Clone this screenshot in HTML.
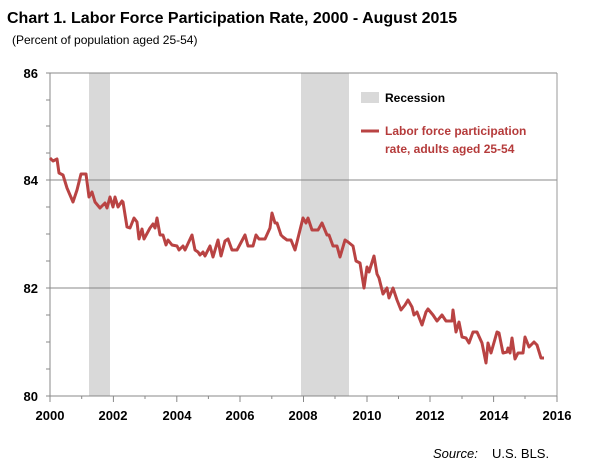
<!DOCTYPE html>
<html><head><style>
body{margin:0;background:#fff;font-family:"Liberation Sans",Arial,sans-serif;}
svg text{font-family:"Liberation Sans",Arial,sans-serif;}
</style></head><body>
<svg width="600" height="469" viewBox="0 0 600 469" xmlns="http://www.w3.org/2000/svg">
<rect width="600" height="469" fill="#fff"/>
<text x="7" y="23" font-size="16" font-weight="bold" fill="#000">Chart 1. Labor Force Participation Rate, 2000 - August 2015</text>
<text x="12" y="44" font-size="12" fill="#000">(Percent of population aged 25-54)</text>
<rect x="89" y="73" width="21" height="323" fill="#d9d9d9"/>
<rect x="301" y="73" width="48" height="323" fill="#d9d9d9"/>
<line x1="50" y1="180" x2="557" y2="180" stroke="#888" stroke-width="1"/>
<line x1="50" y1="288" x2="557" y2="288" stroke="#888" stroke-width="1"/>
<line x1="50" y1="73" x2="557" y2="73" stroke="#888" stroke-width="1"/>
<line x1="557" y1="73" x2="557" y2="396" stroke="#999" stroke-width="1"/>
<line x1="50" y1="73" x2="50" y2="396" stroke="#888" stroke-width="1"/>
<line x1="50" y1="396" x2="557" y2="396" stroke="#888" stroke-width="1"/>
<g stroke="#888" stroke-width="1">
<line x1="46" y1="73" x2="50" y2="73"/><line x1="46" y1="100" x2="50" y2="100"/><line x1="46" y1="126" x2="50" y2="126"/><line x1="46" y1="153" x2="50" y2="153"/><line x1="46" y1="180" x2="50" y2="180"/><line x1="46" y1="207" x2="50" y2="207"/><line x1="46" y1="234" x2="50" y2="234"/><line x1="46" y1="261" x2="50" y2="261"/><line x1="46" y1="288" x2="50" y2="288"/><line x1="46" y1="315" x2="50" y2="315"/><line x1="46" y1="342" x2="50" y2="342"/><line x1="46" y1="369" x2="50" y2="369"/><line x1="46" y1="396" x2="50" y2="396"/>
<line x1="50" y1="396" x2="50" y2="402"/><line x1="81.7" y1="396" x2="81.7" y2="399"/><line x1="113.4" y1="396" x2="113.4" y2="402"/><line x1="145" y1="396" x2="145" y2="399"/><line x1="176.8" y1="396" x2="176.8" y2="402"/><line x1="208.4" y1="396" x2="208.4" y2="399"/><line x1="240" y1="396" x2="240" y2="402"/><line x1="271.8" y1="396" x2="271.8" y2="399"/><line x1="303.5" y1="396" x2="303.5" y2="402"/><line x1="335" y1="396" x2="335" y2="399"/><line x1="367" y1="396" x2="367" y2="402"/><line x1="398.5" y1="396" x2="398.5" y2="399"/><line x1="430" y1="396" x2="430" y2="402"/><line x1="462" y1="396" x2="462" y2="399"/><line x1="493.6" y1="396" x2="493.6" y2="402"/><line x1="525" y1="396" x2="525" y2="399"/><line x1="557" y1="396" x2="557" y2="402"/>
</g>
<g font-size="13" font-weight="bold" fill="#000" text-anchor="end">
<text x="38" y="78">86</text><text x="38" y="185">84</text><text x="38" y="293">82</text><text x="38" y="401">80</text>
</g>
<g font-size="13" font-weight="bold" fill="#000" text-anchor="middle">
<text x="50" y="420">2000</text><text x="113" y="420">2002</text><text x="177" y="420">2004</text><text x="240" y="420">2006</text><text x="303" y="420">2008</text><text x="367" y="420">2010</text><text x="430" y="420">2012</text><text x="494" y="420">2014</text><text x="557" y="420">2016</text>
</g>
<polyline fill="none" stroke="#b94343" stroke-width="3" stroke-linejoin="round" points="50,158 53,161 57,159 59,173 63,175 67,188 73,202 77,190 81,174 86,174 89,197 92,192 95,202 100,208 105,203 107,208 110,197 113,207 115,197 118,207 122,201 123,202 127,227 130,228 134,218 137,222 139,239 142,229 144,239 150,228 153,224 155,228 157,218 160,235 163,235 166,245 168,240 172,245 177,246 179,250 183,246 185,250 192,235 195,250 198,252 200,255 203,252 205,256 210,246 213,257 218,240 221,256 225,241 228,239 232,250 237,250 245,235 248,246 253,246 256,235 259,239 265,239 270,228 272,213 275,223 277,223 281,235 283,237 287,240 291,240 295,250 303,218 306,223 308,218 312,230 318,230 322,223 327,235 329,235 333,246 337,246 340,257 345,240 348,242 353,246 356,261 360,263 364,288 367,267 369,272 374,256 377,274 379,278 383,294 387,288 389,298 393,288 397,300 401,310 405,305 408,300 412,307 414,315 417,312 422,325 426,312 428,309 433,315 437,321 442,315 446,321 452,321 453,310 456,332 459,322 462,337 466,338 469,343 473,332 477,332 482,343 486,363 488,343 491,353 497,332 499,333 503,353 507,352 508,348 510,353 512,338 515,359 518,353 523,353 525,337 529,347 534,342 537,345 541,358 544,358"/>
<rect x="361" y="92" width="18" height="11" fill="#d9d9d9"/>
<text x="385" y="102" font-size="12" font-weight="bold" fill="#000">Recession</text>
<line x1="361" y1="131" x2="379" y2="131" stroke="#b94343" stroke-width="3"/>
<text x="385" y="135" font-size="12" font-weight="bold" fill="#b53b3b">Labor force participation</text>
<text x="385" y="153" font-size="12" font-weight="bold" fill="#b53b3b">rate, adults aged 25-54</text>
<text x="433" y="458" font-size="13" font-style="italic" fill="#000">Source:</text>
<text x="492" y="458" font-size="13" fill="#000">U.S. BLS.</text>
</svg>
</body></html>
